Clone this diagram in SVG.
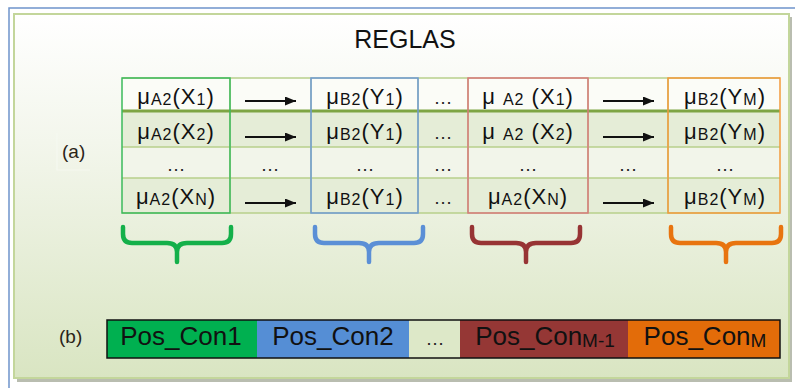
<svg xmlns="http://www.w3.org/2000/svg" width="795" height="388" viewBox="0 0 795 388">
<defs>
<linearGradient id="panel" x1="0" y1="0" x2="0" y2="1">
<stop offset="0" stop-color="#ffffff"/>
<stop offset="0.35" stop-color="#f3f6ec"/>
<stop offset="1" stop-color="#d9e5c2"/>
</linearGradient>
<marker id="ah" viewBox="0 0 11 9" refX="11" refY="4.5" markerWidth="11" markerHeight="9" markerUnits="userSpaceOnUse" orient="auto">
<path d="M0,0 L11,4.5 L0,9 Z" fill="#111"/>
</marker>
<style>
.t{font-family:"Liberation Sans",Arial,sans-serif;font-size:22px;fill:#111;text-anchor:middle;letter-spacing:1px}
.s{font-size:16px}
.dots{font-family:"Liberation Sans",Arial,sans-serif;font-size:19px;fill:#222;text-anchor:middle}
.grid{stroke:#b8cf8c;stroke-width:1.5;fill:none}
.arr{stroke:#111;stroke-width:1.8;marker-end:url(#ah)}
.brace{fill:none;stroke-width:4.5;stroke-linecap:round;stroke-linejoin:round}
.bt{font-family:"Liberation Sans",Arial,sans-serif;font-size:26px;fill:#111;text-anchor:middle}
.bs{font-size:19px}
.lbl{font-family:"Liberation Sans",Arial,sans-serif;font-size:19px;fill:#2a2418}
</style>
</defs>

<!-- frame -->
<rect x="9" y="8" width="800" height="400" fill="#ffffff" stroke="#6f94cc" stroke-width="1.5"/>
<rect x="17" y="17" width="775" height="365" fill="#b9bdb0"/>
<rect x="14" y="14" width="775" height="364" fill="url(#panel)" stroke="#c3d69b" stroke-width="2"/>

<text x="405" y="48" font-family="Liberation Sans, Arial, sans-serif" font-size="25" fill="#111" text-anchor="middle">REGLAS</text>

<!-- (a) label -->
<g id="label-a">
<path d="M57,133 V170 H90" fill="none" stroke="#f6f8f0" stroke-width="1.2"/>
<text class="lbl" x="62" y="158">(a)</text>
</g>

<!-- table rows -->
<g id="table-rows">
<rect x="122" y="78" width="658" height="33" fill="#fbfcf7"/>
<rect x="122" y="111" width="658" height="36" fill="#e5edd7"/>
<rect x="122" y="147" width="658" height="31" fill="#f2f5ea"/>
<rect x="122" y="178" width="658" height="35" fill="#e5edd7"/>
<path class="grid" d="M122,78 H780 M122,147 H780 M122,178 H780 M122,213 H780 M230,78 V213 M311,78 V213 M418,78 V213 M468,78 V213 M588,78 V213 M668,78 V213"/>
<line x1="122" y1="111" x2="780" y2="111" stroke="#7ea544" stroke-width="3"/>
</g>

<!-- column 1: antecedent X -->
<g id="col-ax">
<rect x="122" y="78" width="108" height="135" fill="none" stroke="#3dba5c" stroke-width="1.5"/>
<text class="t" x="176" y="104">μ<tspan class="s" dy="1">A2</tspan><tspan dy="-1">(X</tspan><tspan class="s" dy="1">1</tspan><tspan dy="-1">)</tspan></text>
<text class="t" x="176" y="139">μ<tspan class="s" dy="1">A2</tspan><tspan dy="-1">(X</tspan><tspan class="s" dy="1">2</tspan><tspan dy="-1">)</tspan></text>
<text class="dots" x="176" y="171">…</text>
<text class="t" x="176" y="204">μ<tspan class="s" dy="1">A2</tspan><tspan dy="-1">(X</tspan><tspan class="s" dy="1">N</tspan><tspan dy="-1">)</tspan></text>
</g>

<!-- column 3: consequent Y1 -->
<g id="col-by">
<rect x="311" y="78" width="107" height="135" fill="none" stroke="#6f9bd6" stroke-width="1.5"/>
<text class="t" x="365" y="104">μ<tspan class="s" dy="1">B2</tspan><tspan dy="-1">(Y</tspan><tspan class="s" dy="1">1</tspan><tspan dy="-1">)</tspan></text>
<text class="t" x="365" y="139">μ<tspan class="s" dy="1">B2</tspan><tspan dy="-1">(Y</tspan><tspan class="s" dy="1">1</tspan><tspan dy="-1">)</tspan></text>
<text class="dots" x="365" y="171">…</text>
<text class="t" x="365" y="204">μ<tspan class="s" dy="1">B2</tspan><tspan dy="-1">(Y</tspan><tspan class="s" dy="1">1</tspan><tspan dy="-1">)</tspan></text>
</g>

<!-- column 4: ellipsis -->
<g id="col-dots">
<text class="dots" x="443" y="104">…</text>
<text class="dots" x="443" y="139">…</text>
<text class="dots" x="443" y="171">…</text>
<text class="dots" x="443" y="204">…</text>
</g>

<!-- column 5: antecedent X (M-1) -->
<g id="col-ax2">
<rect x="468" y="78" width="120" height="135" fill="none" stroke="#d97a7c" stroke-width="1.5"/>
<text class="t" x="528" y="104">μ <tspan class="s" dy="1">A2</tspan><tspan dy="-1"> (X</tspan><tspan class="s" dy="1">1</tspan><tspan dy="-1">)</tspan></text>
<text class="t" x="528" y="139">μ <tspan class="s" dy="1">A2</tspan><tspan dy="-1"> (X</tspan><tspan class="s" dy="1">2</tspan><tspan dy="-1">)</tspan></text>
<text class="dots" x="528" y="171">…</text>
<text class="t" x="528" y="204">μ<tspan class="s" dy="1">A2</tspan><tspan dy="-1">(X</tspan><tspan class="s" dy="1">N</tspan><tspan dy="-1">)</tspan></text>
</g>

<!-- column 7: consequent YM -->
<g id="col-bym">
<rect x="668" y="78" width="112" height="135" fill="none" stroke="#f39a3b" stroke-width="1.5"/>
<text class="t" x="725" y="104">μ<tspan class="s" dy="1">B2</tspan><tspan dy="-1">(Y</tspan><tspan class="s" dy="1">M</tspan><tspan dy="-1">)</tspan></text>
<text class="t" x="725" y="139">μ<tspan class="s" dy="1">B2</tspan><tspan dy="-1">(Y</tspan><tspan class="s" dy="1">M</tspan><tspan dy="-1">)</tspan></text>
<text class="dots" x="725" y="171">…</text>
<text class="t" x="725" y="204">μ<tspan class="s" dy="1">B2</tspan><tspan dy="-1">(Y</tspan><tspan class="s" dy="1">M</tspan><tspan dy="-1">)</tspan></text>
</g>

<!-- connectors: arrows -->
<g id="connectors">
<line class="arr" x1="245" y1="101" x2="296" y2="101"/>
<line class="arr" x1="245" y1="137" x2="296" y2="137"/>
<line class="arr" x1="245" y1="203" x2="296" y2="203"/>
<line class="arr" x1="603" y1="101" x2="654" y2="101"/>
<line class="arr" x1="603" y1="137" x2="654" y2="137"/>
<line class="arr" x1="603" y1="203" x2="654" y2="203"/>
<text class="dots" x="270" y="171">…</text>
<text class="dots" x="628" y="171">…</text>
</g>

<!-- braces -->
<g id="braces">
<path class="brace" stroke="#14b04a" d="M123,227 V234 Q123,243 132,243 H167 Q177,243 177,252 V262 M177,252 Q177,243 187,243 H222 Q231,243 231,234 V227"/>
<path class="brace" stroke="#5b8fd6" d="M315,227 V234 Q315,243 324,243 H359 Q369,243 369,252 V262 M369,252 Q369,243 379,243 H414 Q423,243 423,234 V227"/>
<path class="brace" stroke="#973434" d="M472,227 V234 Q472,243 481,243 H516 Q526,243 526,252 V262 M526,252 Q526,243 536,243 H571 Q580,243 580,234 V227"/>
<path class="brace" stroke="#e8740f" d="M671,227 V234 Q671,243 680,243 H716 Q726,243 726,252 V262 M726,252 Q726,243 736,243 H772 Q781,243 781,234 V227"/>
</g>

<!-- (b) label -->
<text class="lbl" x="59" y="343">(b)</text>

<!-- bar -->
<g id="pos-con1">
<rect x="107" y="320" width="150" height="38" fill="#00b050"/>
<text class="bt" x="181" y="345">Pos_Con1</text>
</g>
<g id="pos-con2">
<rect x="257" y="320" width="152" height="38" fill="#558ed5"/>
<text class="bt" x="333" y="345">Pos_Con2</text>
</g>
<g id="pos-dots">
<rect x="409" y="320" width="51" height="38" fill="#dde8c8"/>
<text class="dots" x="435" y="345">…</text>
</g>
<g id="pos-conm1">
<rect x="460" y="320" width="168" height="38" fill="#953735"/>
<text class="bt" x="545" y="345">Pos_Con<tspan class="bs" dy="2">M-1</tspan></text>
</g>
<g id="pos-conm">
<rect x="628" y="320" width="152" height="38" fill="#e36c09"/>
<text class="bt" x="705" y="345">Pos_Con<tspan class="bs" dy="2">M</tspan></text>
</g>
<rect x="107" y="320" width="673" height="38" fill="none" stroke="#111" stroke-width="1.5"/>
</svg>
